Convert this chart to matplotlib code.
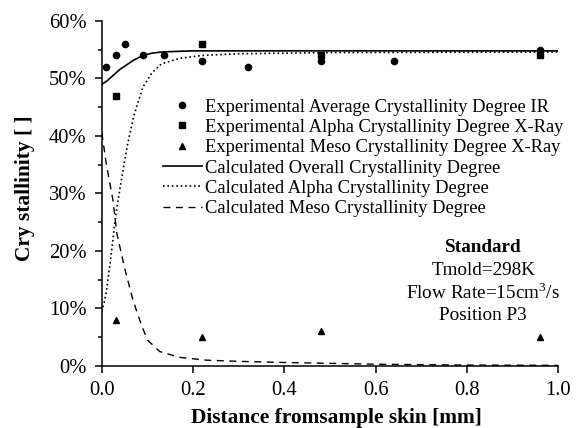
import matplotlib
matplotlib.use("Agg")
import matplotlib.pyplot as plt
from matplotlib.ticker import PercentFormatter, MultipleLocator

plt.rcParams["font.family"] = ["Liberation Serif", "DejaVu Serif"]
plt.rcParams["mathtext.fontset"] = "custom"
plt.rcParams["mathtext.rm"] = "Liberation Serif"

# measured points
ir_x = [0.01, 0.03, 0.05, 0.09, 0.136, 0.22, 0.32, 0.48, 0.64, 0.96]
ir_y = [52, 54, 56, 54, 54, 53, 52, 53, 53, 55]
alpha_x = [0.03, 0.22, 0.48, 0.96]
alpha_y = [47, 56, 54, 54]
meso_x = [0.03, 0.22, 0.48, 0.96]
meso_y = [8, 5, 6, 5]

# calculated curves
overall_cx = [0.0, 0.01, 0.02, 0.03, 0.04, 0.055, 0.07, 0.09, 0.11, 0.13, 0.16, 0.2, 0.3, 0.5, 1.0]
overall_cy = [49.0, 49.5, 50.2, 50.9, 51.6, 52.4, 53.2, 54.0, 54.4, 54.6, 54.7, 54.8, 54.8, 54.8, 54.8]
alpha_cx = [0.0, 0.005, 0.01, 0.02, 0.03, 0.04, 0.055, 0.07, 0.09, 0.11, 0.13, 0.17, 0.22, 0.3, 0.5, 1.0]
alpha_cy = [9.5, 11, 13, 19, 26, 31, 38, 43.5, 48.5, 51, 52.5, 53.5, 54.0, 54.3, 54.5, 54.6]
meso_cx = [0.0, 0.01, 0.024, 0.033, 0.05, 0.068, 0.085, 0.1, 0.127, 0.17, 0.23, 0.3, 0.4, 0.6, 0.8, 1.0]
meso_cy = [40.5, 35, 29, 23, 17, 11.5, 7.5, 4.5, 2.5, 1.5, 1.0, 0.8, 0.6, 0.3, 0.15, 0.1]

fig = plt.figure(figsize=(5.82, 4.28), dpi=100)
ax = fig.add_axes([0.175, 0.145, 0.784, 0.806])

ax.plot(ir_x, ir_y, "o", color="black", ms=4.5, label="Experimental Average Crystallinity Degree IR")
ax.plot(alpha_x, alpha_y, "s", color="black", ms=4.2, label="Experimental Alpha Crystallinity Degree X-Ray")
ax.plot(meso_x, meso_y, "^", color="black", ms=5, label="Experimental Meso Crystallinity Degree X-Ray")
ax.plot(overall_cx, overall_cy, "-", color="black", lw=1.2, label="Calculated Overall Crystallinity Degree")
ax.plot(alpha_cx, alpha_cy, ":", color="black", lw=1.2, label="Calculated Alpha Crystallinity Degree")
ax.plot(meso_cx, meso_cy, "--", color="black", lw=1.0, dashes=(5, 4), label="Calculated Meso Crystallinity Degree")

ax.set_xlim(0, 1.0)
ax.set_ylim(0, 60)
ax.xaxis.set_major_locator(MultipleLocator(0.2))
ax.yaxis.set_major_locator(MultipleLocator(10))
ax.yaxis.set_minor_locator(MultipleLocator(5))
ax.yaxis.set_major_formatter(PercentFormatter(decimals=0))
ax.xaxis.set_major_formatter(lambda v, p: f"{v:.1f}")
ax.tick_params(axis="both", which="major", direction="out", length=5, width=1.1, labelsize=14.8, pad=6)
ax.tick_params(axis="y", which="minor", direction="out", length=3, width=1.1)
ax.spines["top"].set_visible(False)
ax.spines["right"].set_visible(False)
ax.spines["left"].set_linewidth(1.1)
ax.spines["bottom"].set_linewidth(1.1)

ax.set_xlabel("Distance fromsample skin [mm]", fontsize=15.4, fontweight="bold")
ax.xaxis.set_label_coords(0.515, -0.121)
ax.set_ylabel("Cry stallinity [ ]", fontsize=15.4, fontweight="bold")
ax.yaxis.set_label_coords(-0.146, 0.515)

ax.legend(loc="upper left", bbox_to_anchor=(0.134, 0.775), frameon=False, fontsize=13.3,
          labelspacing=0.18, handlelength=2.1, handletextpad=0.15, borderpad=0, borderaxespad=0)

ax.text(0.836, 0.342, "Standard", transform=ax.transAxes, ha="center", va="center", fontsize=13.8, fontweight="bold")
ax.text(0.836, 0.278, "Tmold=298K", transform=ax.transAxes, ha="center", va="center", fontsize=13.8)
ax.text(0.836, 0.212, "Flow Rate=15cm$^3$/s", transform=ax.transAxes, ha="center", va="center", fontsize=13.8)
ax.text(0.836, 0.145, "Position P3", transform=ax.transAxes, ha="center", va="center", fontsize=13.8)

fig.savefig("out.png", dpi=100)
